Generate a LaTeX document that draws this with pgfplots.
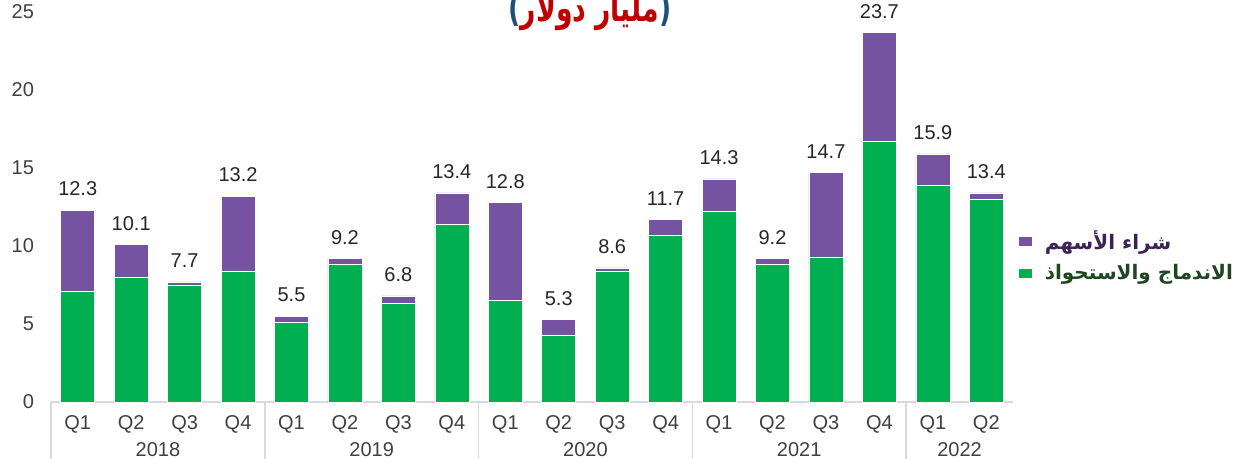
\documentclass[border=0pt]{standalone}
\usepackage{pgfplots}
\pgfplotsset{compat=1.18}
\usepackage{pgfplotstable}
\usepackage{fontspec}
\setmainfont{Liberation Sans}
\newfontfamily\arabicfont[Script=Arabic]{DejaVu Sans}
\TeXXeTstate=1
\usetikzlibrary{calc}
\definecolor{mgreen}{HTML}{00B050}
\definecolor{mpurple}{HTML}{7652A2}
\definecolor{tred}{HTML}{C00000}
\definecolor{tblue}{HTML}{1F4E79}
\definecolor{lgreen}{HTML}{1E4620}
\definecolor{lpurple}{HTML}{3B2357}
\definecolor{sepgray}{HTML}{D9D9D9}
\definecolor{lblgray}{HTML}{404040}

\pgfplotstableread{
x green purple total
0 7.1 5.2 12.3
1 8.0 2.1 10.1
2 7.5 0.2 7.7
3 8.4 4.8 13.2
4 5.1 0.4 5.5
5 8.8 0.4 9.2
6 6.3 0.5 6.8
7 11.4 2.0 13.4
8 6.5 6.3 12.8
9 4.3 1.0 5.3
10 8.4 0.2 8.6
11 10.7 1.0 11.7
12 12.2 2.1 14.3
13 8.8 0.4 9.2
14 9.3 5.4 14.7
15 16.7 7.0 23.7
16 13.9 2.0 15.9
17 13.0 0.4 13.4
}\data

\begin{document}
\begin{tikzpicture}
\begin{axis}[
  scale only axis, width=481pt, height=195pt,
  ybar stacked, bar width=17pt,
  xmin=-0.5, xmax=17.5, ymin=0, ymax=25,
  ytick={0,5,...,25},
  xtick={0,...,17},
  xticklabels={Q1,Q2,Q3,Q4,Q1,Q2,Q3,Q4,Q1,Q2,Q3,Q4,Q1,Q2,Q3,Q4,Q1,Q2},
  axis x line*=bottom, axis y line*=left,
  y axis line style={draw=none},
  x axis line style={draw=sepgray, line width=0.8pt, -},
  major tick length=0pt,
  tick label style={font=\fontsize{10}{11}\selectfont, text=lblgray},
  /pgf/number format/assume math mode=true,
  yticklabel style={xshift=-5pt},
  xticklabel style={yshift=-3pt},
  reverse legend,
  legend style={at={(1.005,0.373)}, anchor=west, draw=none, fill=none,
    row sep=2pt, inner sep=0pt, font=\arabicfont\bfseries\fontsize{10}{12}\selectfont},
  legend cell align=left,
  legend image code/.code={\fill[#1] (0pt,-2.5pt) rectangle (7pt,2.5pt);},
  clip=false,
]
\addplot[fill=mgreen, draw=white, line width=0.3pt] table[x=x,y=green]{\data};
\addlegendentry{\hspace*{4pt}\textcolor{lgreen}{\beginR الاندماج والاستحواذ\endR}}
\addplot[fill=mpurple, draw=white, line width=0.3pt] table[x=x,y=purple]{\data};
\addlegendentry{\hspace*{4pt}\textcolor{lpurple}{\beginR شراء الأسهم\endR}}
\pgfplotsinvokeforeach{-0.5,3.5,7.5,11.5,15.5}{
  \draw[sepgray, line width=0.8pt] (axis cs:#1,0) -- ++(0pt,-28.5pt);
}
\node[font=\fontsize{10}{11}\selectfont, text=lblgray] at (axis cs:1.5,0) [yshift=-24pt] {2018};
\node[font=\fontsize{10}{11}\selectfont, text=lblgray] at (axis cs:5.5,0) [yshift=-24pt] {2019};
\node[font=\fontsize{10}{11}\selectfont, text=lblgray] at (axis cs:9.5,0) [yshift=-24pt] {2020};
\node[font=\fontsize{10}{11}\selectfont, text=lblgray] at (axis cs:13.5,0) [yshift=-24pt] {2021};
\node[font=\fontsize{10}{11}\selectfont, text=lblgray] at (axis cs:16.5,0) [yshift=-24pt] {2022};
\node[anchor=base, font=\arabicfont\bfseries\fontsize{14}{16}\selectfont] at (rel axis cs:0.5,1) [xshift=29pt, yshift=-5pt]
  {\scalebox{0.95}[1.35]{\textcolor{tblue}{)}\textcolor{tred}{\beginR مليار دولار\endR}\textcolor{tblue}{(}}};
\coordinate (SW) at (rel axis cs:0,0);
\coordinate (NE) at (rel axis cs:1,1);
\end{axis}
\begin{axis}[
  scale only axis, width=481pt, height=195pt,
  xmin=-0.5, xmax=17.5, ymin=0, ymax=25,
  hide axis, clip=false,
  /pgf/number format/assume math mode=true,
]
\addplot[only marks, mark=none,
  nodes near coords={\pgfmathprintnumber[fixed,fixed zerofill,precision=1,assume math mode=true]{\pgfplotspointmeta}},
  point meta=explicit,
  every node near coord/.append style={anchor=south, font=\fontsize{10}{11}\selectfont, text=black!85, yshift=3.5pt}]
  table[x=x,y=total,meta=total]{\data};
\end{axis}
\pgfresetboundingbox
\path[use as bounding box] ($(SW)+(-25.5pt,-28.5pt)$) rectangle ($(NE)+(114pt,6pt)$);
\end{tikzpicture}
\end{document}
